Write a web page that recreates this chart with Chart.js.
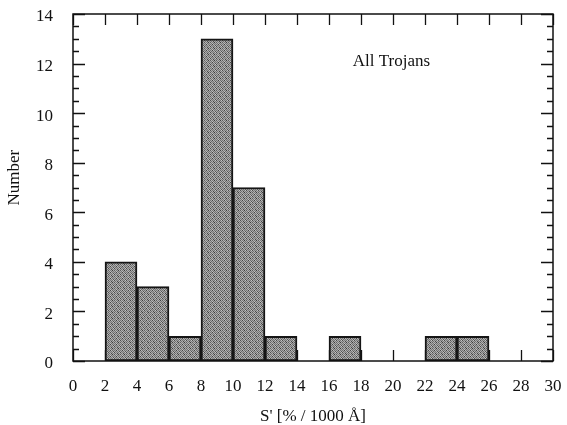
<!DOCTYPE html>
<html>
<head>
<meta charset="utf-8">
<script src="https://cdn.jsdelivr.net/npm/chart.js@4/dist/chart.umd.min.js"></script>
<style>
  html, body { margin: 0; padding: 0; background: #fff; }
  #wrap { width: 567px; height: 425px; }
</style>
</head>
<body>
<div id="wrap"><canvas id="hist" width="567" height="425"></canvas></div>
<script>
// bin centres (bin width 2) and counts
var binCentres = [3, 5, 7, 9, 11, 13, 17, 23, 25];
var counts     = [4, 3, 1, 13, 7, 1, 1, 1, 1];
var xTicks = [0, 2, 4, 6, 8, 10, 12, 14, 16, 18, 20, 22, 24, 26, 28, 30];
var yTicks = [0, 2, 4, 6, 8, 10, 12, 14];
var labelText = "All Trojans";
var labelPos = { x: 19.9, y: 12.1 };
var yTitle = "Number";
var xTitle = "S' [% / 1000 Å]";

var serif = "'Liberation Serif', 'DejaVu Serif', serif";

// stippled grey fill for the bars
function makeStipple() {
    var c = document.createElement("canvas");
    c.width = 6; c.height = 6;
    var g = c.getContext("2d");
    var shades = [
        "#5e5e5e", "#b4b4b4", "#7a7a7a", "#a8a8a8", "#3c3c3c", "#b0b0b0",
        "#acacac", "#727272", "#c0c0c0", "#6a6a6a", "#a4a4a4", "#787878",
        "#747474", "#aaaaaa", "#444444", "#bcbcbc", "#707070", "#a6a6a6",
        "#b2b2b2", "#6c6c6c", "#a2a2a2", "#767676", "#b6b6b6", "#545454",
        "#4a4a4a", "#aeaeae", "#7c7c7c", "#a0a0a0", "#727272", "#c4c4c4",
        "#a8a8a8", "#707070", "#b4b4b4", "#484848", "#aaaaaa", "#7a7a7a"
    ];
    for (var i = 0; i < 36; i++) {
        g.fillStyle = shades[i];
        g.fillRect(i % 6, Math.floor(i / 6), 1, 1);
    }
    return g.createPattern(c, "repeat");
}

var frameTicks = {
    id: "frameTicks",
    beforeDatasetsDraw: function (chart) {
        var ctx = chart.ctx, a = chart.chartArea;
        var xs = chart.scales.x, ys = chart.scales.y;
        ctx.save();
        ctx.strokeStyle = "#111";
        ctx.lineWidth = 1.3;
        ctx.beginPath();
        xTicks.forEach(function (v) {
            var px = Math.round(xs.getPixelForValue(v)) + 0.5;
            ctx.moveTo(px, a.bottom); ctx.lineTo(px, a.bottom - 11);
            ctx.moveTo(px, a.top); ctx.lineTo(px, a.top + 11);
        });
        for (var v = 0; v <= 14; v += 0.5) {
            var py = Math.round(ys.getPixelForValue(v)) + 0.5;
            var len = (v % 2 === 0) ? 12 : 6;
            ctx.moveTo(a.left, py); ctx.lineTo(a.left + len, py);
            ctx.moveTo(a.right, py); ctx.lineTo(a.right - len, py);
        }
        ctx.stroke();
        ctx.restore();
    },
    afterDatasetsDraw: function (chart) {
        var ctx = chart.ctx, a = chart.chartArea;
        var xs = chart.scales.x, ys = chart.scales.y;
        ctx.save();
        ctx.strokeStyle = "#111";
        ctx.lineWidth = 1.5;
        ctx.strokeRect(a.left, a.top, a.right - a.left, a.bottom - a.top);
        ctx.fillStyle = "#111";
        ctx.font = "17px " + serif;
        ctx.textAlign = "center";
        ctx.textBaseline = "middle";
        ctx.fillText(labelText, xs.getPixelForValue(labelPos.x), ys.getPixelForValue(labelPos.y));
        // y axis title sits a bit above the middle of the plot
        ctx.translate(15, ys.getPixelForValue(7.4));
        ctx.rotate(-Math.PI / 2);
        ctx.fillText(yTitle, 0, 0);
        ctx.restore();
    }
};

new Chart(document.getElementById("hist"), {
    type: "bar",
    data: {
        datasets: [{
            data: binCentres.map(function (x, i) { return { x: x, y: counts[i] }; }),
            backgroundColor: makeStipple(),
            borderColor: "#151515",
            borderWidth: 2,
            borderSkipped: false,
            barPercentage: 1,
            categoryPercentage: 1
        }]
    },
    options: {
        responsive: false,
        animation: false,
        events: [],
        layout: { padding: { left: 0, right: 14, top: 14, bottom: 0 } },
        plugins: { legend: { display: false }, tooltip: { enabled: false } },
        scales: {
            x: {
                type: "linear",
                offset: false,
                min: 0, max: 30,
                afterBuildTicks: function (s) { s.ticks = xTicks.map(function (v) { return { value: v }; }); },
                afterFit: function (s) { s.height = 64; s.paddingLeft = 0; s.paddingRight = 0; },
                grid: { display: false, drawTicks: false, offset: false },
                border: { display: false },
                ticks: { color: "#111", padding: 15, maxRotation: 0, autoSkip: false,
                         font: { family: serif, size: 17 } },
                title: { display: true, text: xTitle, color: "#111",
                         padding: { top: 0, bottom: -2 }, font: { family: serif, size: 17 } }
            },
            y: {
                min: 0, max: 14,
                afterBuildTicks: function (s) { s.ticks = yTicks.map(function (v) { return { value: v }; }); },
                afterFit: function (s) { s.width = 73; s.paddingTop = 0; s.paddingBottom = 0; },
                grid: { display: false, drawTicks: false },
                border: { display: false },
                ticks: { color: "#111", padding: 20, labelOffset: 3, font: { family: serif, size: 17 } },
                title: { display: false }
            }
        }
    },
    plugins: [frameTicks]
});
</script>
</body>
</html>
